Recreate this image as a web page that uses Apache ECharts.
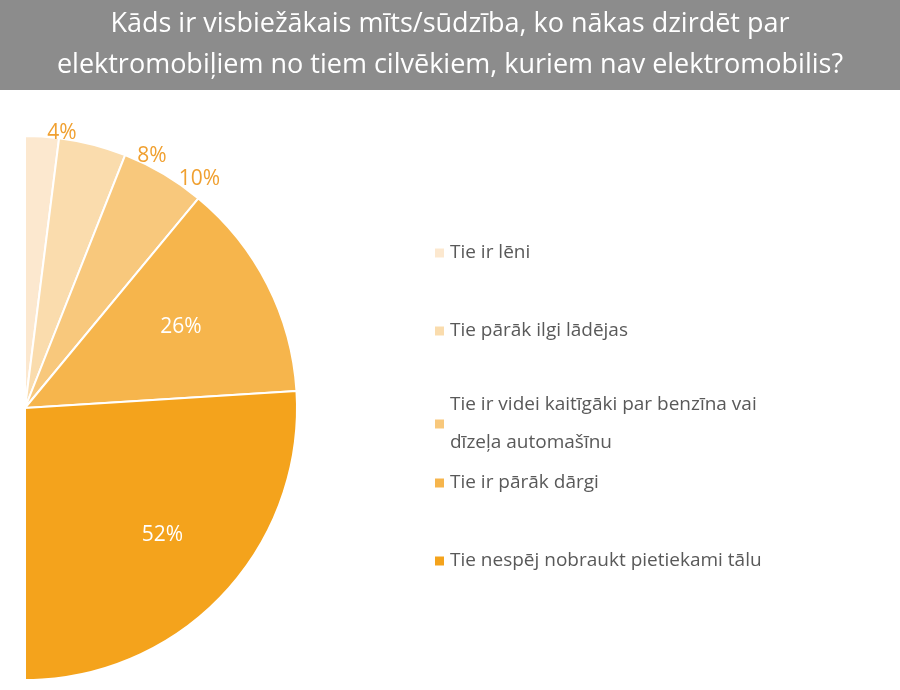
<!DOCTYPE html>
<html>
<head>
<meta charset="utf-8">
<script src="https://cdn.jsdelivr.net/npm/echarts@6/dist/echarts.min.js"></script>
<style>body{margin:0;background:#fff}#main{width:900px;height:690px}</style>
</head>
<body>
<div id="main"></div>
<script>
var categories = ['Tie ir lēni', 'Tie pārāk ilgi lādējas', 'Tie ir videi kaitīgāki par benzīna vai dīzeļa automašīnu', 'Tie ir pārāk dārgi', 'Tie nespēj nobraukt pietiekami tālu'];
var values = [4, 8, 10, 26, 52];
var colors = ['#FCE8CF', '#FADCAD', '#F8C87C', '#F6B54C', '#F4A31C'];
var legendTops = [229, 307, 381, 459, 537];
var labelOffsets = [[0, 0], [0, 0], [0, 0], [32, -18], [36, 32]];

var myChart = echarts.init(document.getElementById('main'));

var data = categories.map(function (c, i) {
    var inside = values[i] >= 20;
    return {
        name: c,
        value: values[i],
        itemStyle: { color: colors[i] },
        label: {
            position: inside ? 'inside' : 'outside',
            color: inside ? '#ffffff' : '#F0A030',
            offset: labelOffsets[i]
        }
    };
});
// invisible other half so the real slices fill the right half only
data.push({ name: '_rest', value: 100, itemStyle: { color: 'rgba(0,0,0,0)', borderWidth: 0 }, label: { show: false }, emphasis: { disabled: true } });

// one legend per item so the spacing follows the reference
var legends = categories.map(function (c, i) {
    return {
        left: 428,
        top: legendTops[i],
        itemWidth: 11,
        itemHeight: 11,
        data: [{ name: c, icon: 'rect' }],
        formatter: function (n) {
            return n.indexOf('benzīna') > 0 ? 'Tie ir videi kaitīgāki par benzīna vai\ndīzeļa automašīnu' : n;
        },
        textStyle: { fontSize: 19, color: '#595959', lineHeight: 38 }
    };
});

var option = {
    textStyle: { fontFamily: 'Open Sans' },
    graphic: [
        { type: 'rect', shape: { x: 0, y: 0, width: 900, height: 90 }, style: { fill: '#8C8C8C' } },
        { type: 'text', x: 450, y: 4, style: { text: 'Kāds ir visbiežākais mīts/sūdzība, ko nākas dzirdēt par\nelektromobiļiem no tiem cilvēkiem, kuriem nav elektromobilis?', fill: '#fff', font: '27px "Open Sans"', align: 'center', lineHeight: 41 } }
    ],
    legend: legends,
    series: [{
        type: 'pie',
        center: [25, 408],
        radius: 272,
        startAngle: 90,
        clockwise: true,
        data: data,
        label: { formatter: '{c}%', fontSize: 21, distance: 16 },
        labelLine: { show: false, length: 4, length2: 0 },
        itemStyle: { borderColor: '#fff', borderWidth: 2 }
    }]
};
myChart.setOption(option);
</script>
</body>
</html>
